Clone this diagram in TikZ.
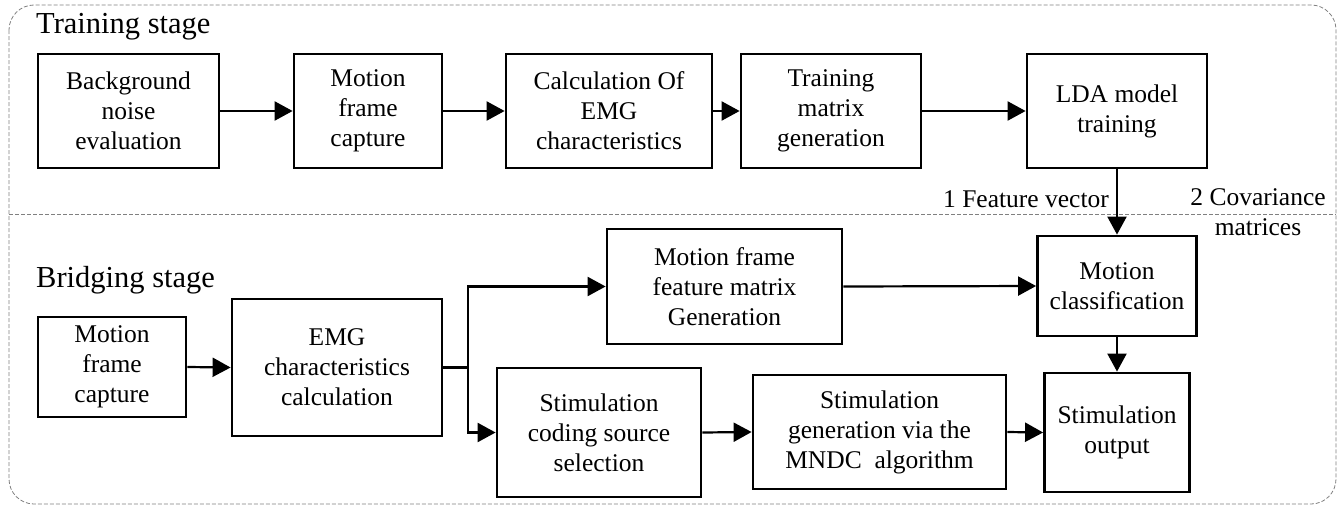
\documentclass[tikz,border=0pt]{standalone}
\usepackage{fontspec}
\setmainfont{Liberation Serif}
\usetikzlibrary{arrows.meta}
\begin{document}
\begin{tikzpicture}[x=1pt,y=-1pt,
  box/.style={draw,line width=2.8pt,align=center,inner sep=0pt,font=\fontsize{25.5}{30}\selectfont},
  arr/.style={line width=2.2pt,-{Triangle[length=18pt,width=19pt]}},
  wire/.style={line width=2.2pt},
  lbl/.style={font=\fontsize{25.5}{30}\selectfont,inner sep=0pt,align=center},
  ttl/.style={font=\fontsize{30.5}{36}\selectfont,inner sep=0pt,anchor=base west},
  frame/.style={gray,line width=0.8pt,dash pattern=on 4pt off 2pt}]
\useasboundingbox (0,0) rectangle (1341,506);
% frame
\draw[frame,rounded corners=25pt] (9,5) rectangle (1336,504);
\draw[frame] (9,214) -- (1336,214);
% titles
\node[ttl] (t1) at (36,33) {Training stage};
\node[ttl] (t2) at (36,287) {Bridging stage};
% training row
\node[box,minimum width=181pt,minimum height=114pt] (b1) at (128.5,111) {Background\\noise\\evaluation};
\node[box,minimum width=148pt,minimum height=114pt] (b2) at (368,111) {Motion\\frame\\capture};
\node[box,minimum width=206pt,minimum height=114pt] (b3) at (609,111) {Calculation Of\\EMG\\characteristics};
\node[box,minimum width=180pt,minimum height=114pt] (b4) at (831,111) {Training\\matrix\\generation};
\node[box,minimum width=180pt,minimum height=114pt] (b5) at (1117,111) {LDA model\\training};
% bridging
\node[box,minimum width=148pt,minimum height=100pt] (m1) at (112,367) {Motion\\frame\\capture};
\node[box,minimum width=210pt,minimum height=137pt] (m2) at (337,367.5) {EMG\\characteristics\\calculation};
\node[box,minimum width=235pt,minimum height=115pt] (m3) at (724.5,286.5) {Motion frame\\feature matrix\\Generation};
\node[box,minimum width=204pt,minimum height=129pt] (m4) at (599,432.5) {Stimulation\\coding source\\selection};
\node[box,minimum width=253pt,minimum height=114pt] (m5) at (879.5,432) {Stimulation\\generation via the\\MNDC\ \ algorithm};
\node[box,minimum width=159pt,minimum height=100pt] (m6) at (1117,286) {Motion\\classification};
\node[box,minimum width=145pt,minimum height=119pt] (m7) at (1117,432.5) {Stimulation\\output};
% labels
\node[lbl,anchor=base east] (l1) at (1109,207) {1 Feature vector};
\node[lbl] (l2) at (1258,212) {2 Covariance\\matrices};
% connectors
\draw[arr] (b1.east) -- (b2.west);
\draw[arr] (b2.east) -- (b3.west);
\draw[arr] (b3.east) -- (b4.west);
\draw[arr] (b4.east) -- (b5.west);
\draw[arr] (b5.south) -- (m6.north);
\draw[arr] (m1.east) -- (m2.west);
\coordinate (br) at (468,367.5);
\draw[wire] (m2.east) -- (br);
\draw[arr] (br) |- (m3.west);
\draw[arr] (br) |- (m4.west);
\draw[arr] (m3.east) -- (m6.west);
\draw[arr] (m4.east) -- (m5.west);
\draw[arr] (m5.east) -- (m7.west);
\draw[arr] (m6.south) -- (m7.north);
\end{tikzpicture}
\end{document}
